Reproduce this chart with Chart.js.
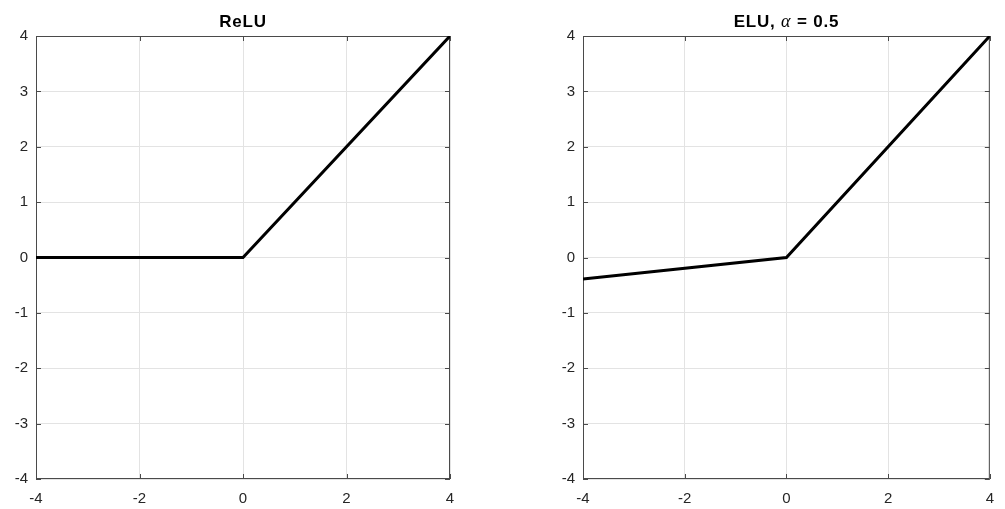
<!DOCTYPE html>
<html>
<head>
<meta charset="utf-8">
<script src="https://cdn.jsdelivr.net/npm/chart.js@4.4.1/dist/chart.umd.min.js"></script>
<style>
  body { margin: 0; background: #fff; }
  .panel { position: absolute; top: 0; height: 509px; }
</style>
</head>
<body>
<div class="panel" style="left:0;width:502px"><canvas id="reluChart"></canvas></div>
<div class="panel" style="left:502px;width:503px"><canvas id="eluChart"></canvas></div>
<script>
// valori
const xTicks = [-4, -2, 0, 2, 4];
const yTicks = [-4, -3, -2, -1, 0, 1, 2, 3, 4];
const reluX = [-4, 0, 4];
const reluY = [0, 0, 4];
const eluX = [-4, 0, 4];
const eluY = [-0.39, 0, 4];

const axisColor = "#262626";
const boxColor = "#4a4a4a";
const gridColor = "#e3e3e3";
const fontFamily = "'Liberation Sans', Arial, sans-serif";

// riquadro con tacche verso l'interno (stile MATLAB)
const boxPlugin = {
  id: "box",
  beforeDatasetsDraw(chart) {
    const { ctx, chartArea: a, scales } = chart;
    ctx.save();
    ctx.strokeStyle = boxColor;
    ctx.lineWidth = 1;
    ctx.strokeRect(a.left + 0.5, a.top + 0.5, a.right - a.left - 1, a.bottom - a.top - 1);
    ctx.beginPath();
    xTicks.forEach((v) => {
      const px = Math.round(scales.x.getPixelForValue(v)) + 0.5;
      ctx.moveTo(px, a.bottom);
      ctx.lineTo(px, a.bottom - 5);
      ctx.moveTo(px, a.top);
      ctx.lineTo(px, a.top + 5);
    });
    yTicks.forEach((v) => {
      const py = Math.round(scales.y.getPixelForValue(v)) + 0.5;
      ctx.moveTo(a.left, py);
      ctx.lineTo(a.left + 5, py);
      ctx.moveTo(a.right, py);
      ctx.lineTo(a.right - 5, py);
    });
    ctx.stroke();
    ctx.restore();
  },
};

// titolo disegnato a pezzi (alpha in corsivo)
function titlePlugin(parts) {
  return {
    id: "partsTitle",
    afterDraw(chart) {
      const { ctx, chartArea: a } = chart;
      ctx.save();
      ctx.fillStyle = "#000";
      ctx.textBaseline = "alphabetic";
      ctx.letterSpacing = "0.8px";
      let total = 0;
      parts.forEach((p) => {
        ctx.font = p.font;
        total += ctx.measureText(p.text).width;
      });
      let x = (a.left + a.right) / 2 - total / 2;
      parts.forEach((p) => {
        ctx.font = p.font;
        ctx.fillText(p.text, x, a.top - 9);
        x += ctx.measureText(p.text).width;
      });
      ctx.restore();
    },
  };
}

function makeChart(id, xs, ys, title, pad) {
  const points = xs.map((x, i) => ({ x: x, y: ys[i] }));
  return new Chart(document.getElementById(id), {
    type: "scatter",
    data: {
      datasets: [
        {
          data: points,
          showLine: true,
          borderColor: "#000",
          borderWidth: 3,
          pointRadius: 0,
          borderJoinStyle: "miter",
        },
      ],
    },
    options: {
      responsive: true,
      maintainAspectRatio: false,
      animation: false,
      layout: { padding: pad },
      plugins: {
        legend: { display: false },
        tooltip: { enabled: false },
      },
      scales: {
        x: {
          type: "linear",
          min: -4,
          max: 4,
          afterBuildTicks: (s) => { s.ticks = xTicks.map((v) => ({ value: v })); },
          afterFit: (s) => { s.height = 30; },
          border: { display: false },
          grid: { color: gridColor, drawTicks: false },
          ticks: { color: axisColor, padding: 11, font: { family: fontFamily, size: 15 } },
        },
        y: {
          type: "linear",
          min: -4,
          max: 4,
          afterBuildTicks: (s) => { s.ticks = yTicks.map((v) => ({ value: v })); },
          afterFit: (s) => { s.width = 36; },
          border: { display: false },
          grid: { color: gridColor, drawTicks: false },
          ticks: { color: axisColor, padding: 8, font: { family: fontFamily, size: 15 } },
        },
      },
    },
    plugins: [boxPlugin, titlePlugin(title)],
  });
}

const bold = "bold 17px " + fontFamily;
makeChart("reluChart", reluX, reluY, [{ text: "ReLU", font: bold }],
  { top: 36, right: 52, left: 0, bottom: 0 });
makeChart("eluChart", eluX, eluY, [
  { text: "ELU, ", font: bold },
  { text: "\u03B1", font: "italic 18px 'Liberation Serif', 'Times New Roman', serif" },
  { text: " = 0.5", font: bold },
], { top: 36, right: 8, left: 45, bottom: 0 });
</script>
</body>
</html>
